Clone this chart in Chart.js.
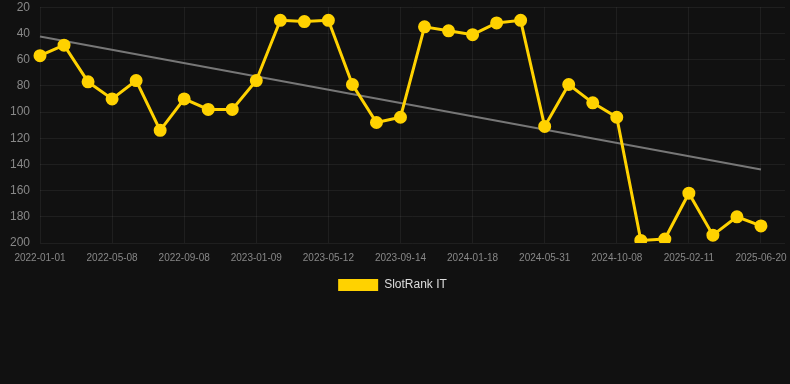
<!DOCTYPE html>
<html>
<head>
<meta charset="utf-8">
<script src="https://cdn.jsdelivr.net/npm/chart.js@4/dist/chart.umd.min.js"></script>
<style>
  html, body { margin: 0; padding: 0; background: #111111; }
  #wrap { width: 790px; height: 301px; }
</style>
</head>
<body>
<div id="wrap"><canvas id="rankChart"></canvas></div>
<script>
// dates (every third one is shown on the axis), last one has no value yet
var dates = [
    '2022-01-01', '2022-02-12', '2022-03-26', '2022-05-08', '2022-06-18', '2022-07-29',
    '2022-09-08', '2022-10-19', '2022-11-29', '2023-01-09', '2023-02-19', '2023-04-01',
    '2023-05-12', '2023-06-23', '2023-08-03', '2023-09-14', '2023-10-26', '2023-12-07',
    '2024-01-18', '2024-03-02', '2024-04-16', '2024-05-31', '2024-07-13', '2024-08-25',
    '2024-10-08', '2024-11-19', '2024-12-31', '2025-02-11', '2025-03-25', '2025-05-07',
    '2025-06-20', '2025-08-01'
];
var rankIT = [
    57, 49, 77, 90, 76, 114, 90, 98, 98, 76,
    30, 31, 30, 79, 108, 104, 35, 38, 41, 32,
    30, 111, 79, 93, 104, 198, 197, 162, 194, 180,
    187, null
];
var yTicks = [20, 40, 60, 80, 100, 120, 140, 160, 180, 200];

// least squares trend over the known points
function trendLine(values) {
    var n = 0, sx = 0, sy = 0, sxx = 0, sxy = 0, last = 0;
    values.forEach(function (v, i) {
        if (v === null) return;
        n++; sx += i; sy += v; sxx += i * i; sxy += i * v; last = i;
    });
    var slope = (n * sxy - sx * sy) / (n * sxx - sx * sx);
    var base = (sy - slope * sx) / n;
    return values.map(function (v, i) {
        return (i === 0 || i === last) ? base + slope * i : null;
    });
}
var trend = trendLine(rankIT);

var ctx = document.getElementById('rankChart');
new Chart(ctx.getContext('2d'), {
    type: 'line',
    data: {
        labels: dates,
        datasets: [
            {
                label: 'SlotRank IT',
                data: rankIT,
                borderColor: '#FFD200',
                backgroundColor: '#FFD200',
                borderWidth: 3,
                pointRadius: 5,
                pointHoverRadius: 6,
                tension: 0
            },
            {
                label: 'trend',
                data: trend,
                borderColor: '#777777',
                borderWidth: 2,
                pointRadius: 0,
                spanGaps: true
            }
        ]
    },
    options: {
        responsive: true,
        maintainAspectRatio: false,
        animation: false,
        layout: { autoPadding: false, padding: { left: 0, right: 5, top: 0, bottom: 0 } },
        scales: {
            x: {
                grid: {
                    color: 'rgba(255,255,255,0.06)',
                    drawTicks: true,
                    tickLength: 9,
                    tickColor: 'transparent'
                },
                border: { display: false },
                ticks: {
                    color: '#888888',
                    font: { family: 'Liberation Sans, Arial', size: 10 },
                    maxRotation: 0,
                    minRotation: 0,
                    padding: 0
                }
            },
            y: {
                reverse: true,
                min: 20,
                max: 200,
                grid: {
                    color: 'rgba(255,255,255,0.06)',
                    drawTicks: true,
                    tickLength: 10,
                    tickColor: 'transparent'
                },
                border: { display: false },
                afterBuildTicks: function (axis) {
                    axis.ticks = yTicks.map(function (v) { return { value: v }; });
                },
                afterFit: function (axis) {
                    axis.width = 40;
                },
                ticks: {
                    color: '#888888',
                    font: { family: 'Liberation Sans, Arial', size: 12 },
                    padding: 0
                }
            }
        },
        plugins: {
            legend: {
                position: 'bottom',
                labels: {
                    color: '#dddddd',
                    boxWidth: 40,
                    boxHeight: 12,
                    padding: 15,
                    font: { family: 'Liberation Sans, Arial', size: 12 },
                    filter: function (item) { return item.text !== 'trend'; },
                    generateLabels: function (chart) {
                        var items = Chart.defaults.plugins.legend.labels.generateLabels(chart);
                        items.forEach(function (it) { it.lineWidth = 0; });
                        return items;
                    }
                }
            },
            tooltip: { enabled: false }
        }
    }
});
</script>
</body>
</html>
